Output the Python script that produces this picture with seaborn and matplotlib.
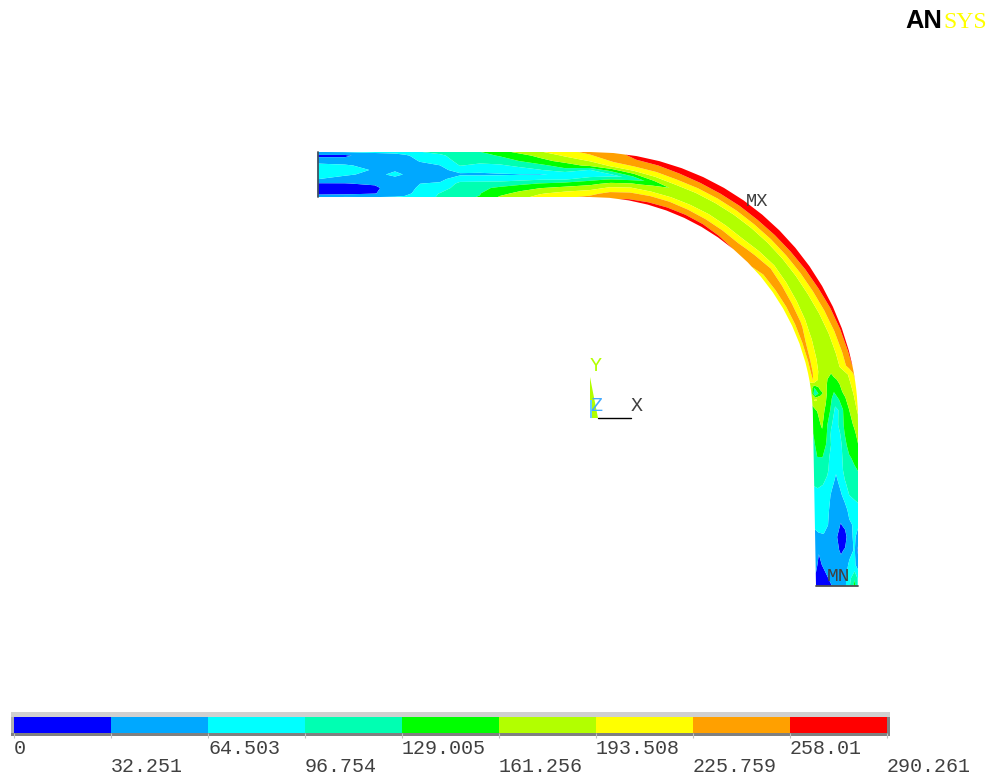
import numpy as np
import seaborn as sns
import matplotlib
matplotlib.use("Agg")
import matplotlib.pyplot as plt
from matplotlib.colors import ListedColormap
from matplotlib.patches import Rectangle

# contour legend
band_colors = ['#0000ff', '#00a8ff', '#00ffff', '#00ffb2', '#00ff00',
               '#b2ff00', '#ffff00', '#ffa000', '#ff0000']
levels = [0, 32.251, 64.503, 96.754, 129.005, 161.256, 193.508, 225.759, 258.01, 290.261]
level_labels = ['0', '32.251', '64.503', '96.754', '129.005', '161.256',
                '193.508', '225.759', '258.01', '290.261']

# stations along the pipe: straight run (x), bend (degrees), drop (y)
straight_x = [318, 345, 375, 385, 395, 405, 420, 440, 460, 480, 500, 520, 540, 565, 590]
bend_deg = [5, 10, 15, 20, 25, 30, 35, 40, 45, 50, 55, 60, 65, 70, 75, 78,
            80, 81.8, 83.4, 84.9, 87.7]
drop_y = [425, 435, 445, 458, 470, 482, 495, 510, 525, 537, 550, 565, 578, 586]

# position across the wall, 0 = outer side, 1 = inner side
across = [0, .08, .2, .3, .4, .5, .6, .7, .8, .92, 1]

straight_vals = [
    [64, 25, 50, 75, 80, 75, 65, 30, 18, 18, 60],
    [66, 25, 50, 68, 75, 68, 55, 31, 15, 20, 65],
    [67, 58, 52, 55, 62, 58, 52, 38, 24, 30, 64],
    [68, 58, 52, 55, 60, 64, 55, 48, 40, 45, 65],
    [68, 60, 52, 52, 62, 70, 58, 50, 44, 48, 66],
    [78, 60, 54, 52, 58, 63, 54, 50, 46, 52, 70],
    [95, 75, 66, 58, 55, 52, 52, 64, 72, 80, 85],
    [110, 88, 76, 64, 57, 54, 56, 68, 80, 98, 100],
    [125, 118, 108, 98, 75, 60, 82, 105, 112, 118, 125],
    [128, 118, 105, 90, 72, 60, 80, 108, 122, 128, 130],
    [150, 132, 112, 92, 75, 62, 78, 112, 135, 152, 165],
    [170, 150, 130, 105, 83, 63, 84, 120, 148, 170, 182],
    [190, 170, 150, 120, 95, 62, 90, 130, 160, 190, 205],
    [215, 198, 172, 145, 118, 70, 90, 140, 170, 205, 220],
    [235, 222, 195, 170, 95, 72, 115, 150, 180, 215, 232],
]
bend_vals = [
    [250, 245, 225, 195, 135, 85, 135, 175, 205, 240, 254],
    [265, 258, 235, 210, 160, 108, 155, 190, 220, 250, 262],
    [280, 262, 238, 214, 180, 145, 170, 193, 225, 253, 268],
    [287, 268, 244, 220, 191, 166, 174, 196, 228, 256, 271],
    [288, 272, 246, 219, 190, 172, 178, 197, 226, 257, 272],
    [289, 274, 247, 219, 190, 176, 180, 198, 224, 256, 270],
    [289, 274, 247, 219, 189, 177, 180, 196, 222, 250, 266],
    [290, 275, 248, 220, 188, 178, 180, 195, 220, 245, 258],
    [288, 273, 246, 218, 187, 178, 183, 205, 232, 240, 235],
    [285, 270, 244, 216, 186, 178, 190, 222, 245, 228, 205],
    [283, 266, 240, 213, 186, 175, 184, 214, 238, 227, 202],
    [280, 262, 235, 209, 185, 172, 178, 205, 232, 226, 200],
    [275, 254, 228, 202, 181, 170, 175, 198, 228, 228, 199],
    [270, 247, 221, 196, 178, 168, 172, 190, 220, 232, 198],
    [264, 242, 215, 192, 176, 166, 170, 182, 208, 233, 196],
    [260, 240, 212, 190, 175, 165, 168, 178, 200, 233, 195],
    [230, 205, 180, 170, 165, 158, 162, 172, 190, 226, 195],
    [225, 200, 175, 168, 155, 145, 155, 170, 170, 130, 185],
    [212, 195, 172, 165, 145, 130, 150, 170, 150, 95, 175],
    [208, 190, 170, 155, 135, 112, 140, 165, 180, 198, 190],
    [200, 180, 160, 140, 100, 90, 125, 155, 170, 160, 135],
]
drop_vals = [
    [180, 165, 150, 135, 105, 85, 100, 135, 165, 150, 135],
    [168, 155, 145, 128, 95, 78, 92, 130, 155, 145, 128],
    [160, 150, 140, 120, 85, 72, 95, 125, 145, 140, 120],
    [145, 135, 125, 110, 85, 70, 82, 112, 128, 128, 118],
    [130, 125, 115, 105, 85, 68, 82, 103, 112, 118, 110],
    [118, 112, 105, 95, 72, 58, 72, 90, 100, 105, 100],
    [110, 105, 97, 75, 60, 50, 60, 75, 85, 88, 90],
    [85, 80, 72, 55, 45, 48, 57, 68, 78, 80, 80],
    [70, 68, 60, 40, 30, 45, 55, 65, 72, 72, 70],
    [50, 70, 55, 20, 15, 35, 48, 55, 62, 60, 55],
    [25, 68, 52, 35, 28, 38, 42, 45, 52, 35, 45],
    [50, 70, 72, 50, 42, 40, 40, 38, 38, 25, 40],
    [90, 125, 85, 60, 45, 42, 35, 33, 22, 14, 28],
    [85, 140, 95, 60, 42, 38, 34, 25, 10, 5, 8],
]

# pipe geometry in picture pixels
bend_x, bend_y = 590, 420
r_out, r_in = 268, 223
drop_end = 586

t = np.array(across)
xs, ys = [], []
for x in straight_x:
    xs.append(np.full(t.size, float(x)))
    ys.append(bend_y - r_out + t * (r_out - r_in))
for deg in bend_deg:
    a = np.radians(deg)
    r = r_out - t * (r_out - r_in)
    xs.append(bend_x + r * np.sin(a))
    ys.append(bend_y - r * np.cos(a))
for y in drop_y:
    inner = bend_x + r_in + 3 * (y - bend_y) / (drop_end - bend_y)
    xs.append(bend_x + r_out + t * (inner - bend_x - r_out))
    ys.append(np.full(t.size, float(y)))
X = np.array(xs)
Y = np.array(ys)
Z = np.array(straight_vals + bend_vals + drop_vals, dtype=float)

sns.set_style("white")
fig = plt.figure(figsize=(9.87, 7.76), dpi=100)
ax = fig.add_axes([0, 0, 1, 1])
ax.set_xlim(0, 987)
ax.set_ylim(776, 0)
ax.axis("off")

ax.contourf(X, Y, Z, levels=levels, colors=band_colors, antialiased=True)
ax.plot([318, 318], [152, 197], color='#405060', lw=1.3)
ax.plot([816, 858], [586, 586], color='#505050', lw=1.3)

mono = 'Liberation Mono'
txt = '#404040'
ax.text(746, 206, 'MX', family=mono, fontsize=13.5, color=txt, va='baseline')
ax.text(827, 581, 'MN', family=mono, fontsize=14, color=txt, va='baseline')

# triad
ax.fill([590, 598, 590], [377, 418, 418], color='#b2ff00', lw=0)
ax.fill([590, 592, 592, 590], [400, 400, 418, 418], color='#66ccff', lw=0)
ax.plot([598, 631], [418, 418], color='black', lw=1)
ax.text(590, 371, 'Y', family=mono, fontsize=14.4, color='#b2ff00', va='baseline')
ax.text(590, 411, 'Z', family=mono, fontsize=14.4, color='#44aaff', va='baseline')
ax.text(631, 411, 'X', family=mono, fontsize=14.4, color=txt, va='baseline')

# logo
ax.text(905, 28, 'AN', family='Liberation Sans', fontweight='bold',
        fontsize=18.4, color='black', va='baseline')
ax.text(943, 28, 'SYS', family='Liberation Serif', fontsize=17, color='#ffff00', va='baseline')

# legend bar
ax.add_patch(Rectangle((11, 712), 879, 5, color='#d0d0d0', lw=0))
ax.add_patch(Rectangle((11, 717), 3, 16, color='#b0b0b0', lw=0))
ax.add_patch(Rectangle((887, 717), 3, 16, color='#808080', lw=0))
ax.add_patch(Rectangle((11, 733), 879, 3, color='#808080', lw=0))

cax = fig.add_axes([14 / 987, 1 - 733 / 776, 873 / 987, 16 / 776])
sns.heatmap(np.arange(len(band_colors)).reshape(1, -1), cmap=ListedColormap(band_colors),
            cbar=False, ax=cax, xticklabels=False, yticklabels=False)
cax.set_xticks(range(len(level_labels)))
cax.set_xticklabels(level_labels, family=mono, fontsize=14.4, color=txt, ha='left', rotation=0)
cax.tick_params(axis='x', bottom=True, length=3.5, width=0.8, color='#c0c0c0')
for i, tick in enumerate(cax.xaxis.get_major_ticks()):
    tick.set_pad(14 if i % 2 else 0.5)

fig.savefig('out.png', dpi=100)
